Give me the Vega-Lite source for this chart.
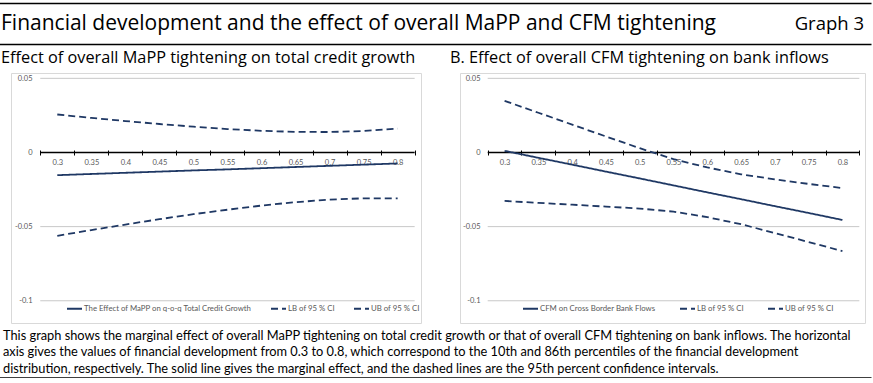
{
  "$schema": "https://vega.github.io/schema/vega-lite/v6.json",
  "padding": {"left": 0, "top": 3, "right": 0, "bottom": 0},
  "spacing": 5,
  "config": {"view": {"stroke": null}},
  "vconcat": [
    {
      "width": 860,
      "height": 41,
      "view": {"stroke": null},
      "layer": [
        {
          "data": {"values": [{"label": "Financial development and the effect of overall MaPP and CFM tightening"}]},
          "mark": {"type": "text", "align": "left", "baseline": "middle", "font": "Open Sans", "fontSize": 21, "color": "#000000", "dx": 3},
          "encoding": {
            "text": {"field": "label"},
            "x": {"datum": 0, "type": "quantitative", "scale": {"domain": [0, 1], "range": [-13, 860], "nice": false}, "axis": {"orient": "top", "domain": true, "domainColor": "#000000", "domainWidth": 1.5, "ticks": false, "labels": false, "grid": false, "title": null}},
            "y": {"datum": 0.5, "type": "quantitative", "scale": {"domain": [0, 1], "nice": false}, "axis": null}
          }
        },
        {
          "data": {"values": [{"label": "Graph 3"}]},
          "mark": {"type": "text", "align": "right", "baseline": "middle", "font": "Open Sans", "fontSize": 18.5, "dx": -7, "color": "#000000"},
          "encoding": {
            "text": {"field": "label"},
            "x": {"datum": 1, "type": "quantitative", "axis": {"orient": "bottom", "domain": true, "domainColor": "#000000", "domainWidth": 1.5, "ticks": false, "labels": false, "grid": false, "title": null}},
            "y": {"datum": 0.5, "type": "quantitative", "axis": null}
          }
        }
      ],
      "resolve": {"axis": {"x": "independent"}}
    },
    {
      "spacing": 27,
      "resolve": {"scale": {"x": "independent", "y": "independent", "strokeDash": "independent"}, "legend": {"strokeDash": "independent"}},
      "hconcat": [
        {
          "width": 410,
          "height": 250,
          "view": {"stroke": "#d9d9d9", "strokeWidth": 1},
          "title": {"text": "Effect of overall MaPP tightening on total credit growth", "anchor": "start", "frame": "group", "dx": -10, "offset": 7, "font": "Open Sans", "fontSize": 16.3, "fontWeight": "normal", "color": "#000000"},
          "layer": [
            {
              "data": {"values": [{"value": 0}]},
              "mark": {"type": "rule", "color": "#000000", "strokeWidth": 1.5},
              "encoding": {
                "x": {"datum": 0.275, "type": "quantitative", "scale": {"domain": [0.232, 0.8343], "nice": false, "zero": false},
                  "axis": {"orient": "bottom", "values": [0.275, 0.325, 0.375, 0.425, 0.475, 0.525, 0.575, 0.625, 0.675, 0.725, 0.775, 0.825], "offset": -173, "domain": false, "ticks": true, "tickSize": 5, "tickColor": "#000000", "tickWidth": 1, "labels": false, "grid": false, "title": null}},
                "x2": {"datum": 0.825},
                "y": {"field": "value", "type": "quantitative", "scale": {"domain": [-0.115, 0.0536], "nice": false, "zero": false},
                  "axis": {"orient": "left", "values": [0.05, 0, -0.05, -0.1], "labelExpr": "toString(datum.value)", "offset": -21, "domain": false, "ticks": false, "tickSize": 0, "labelPadding": 0, "grid": false, "title": null, "labelFont": "Lato", "labelFontSize": 7.5, "labelColor": "#595959", "labelOverlap": false, "labelBound": false, "zindex": 2}}
              }
            },
            {
              "data": {"values": [{"grid": 0.05}, {"grid": -0.05}, {"grid": -0.1}]},
              "mark": {"type": "rule", "color": "#c8c8c8", "strokeWidth": 1},
              "encoding": {
                "x": {"datum": 0.275, "type": "quantitative", "axis": null},
                "x2": {"datum": 0.825},
                "y": {"field": "grid", "type": "quantitative",
                  "axis": {"orient": "left", "values": [0.05, 0, -0.05, -0.1], "labelExpr": "toString(datum.value)", "offset": -21, "domain": false, "ticks": false, "tickSize": 0, "labelPadding": 0, "grid": false, "title": null, "labelFont": "Lato", "labelFontSize": 7.5, "labelColor": "#595959", "labelOverlap": false, "labelBound": false, "zindex": 2}}
              }
            },
            {
              "data": {"values": [
                {"fd": 0.3, "series": "The Effect of MaPP on q-o-q Total Credit Growth", "value": -0.0153},
                {"fd": 0.35, "series": "The Effect of MaPP on q-o-q Total Credit Growth", "value": -0.0145},
                {"fd": 0.4, "series": "The Effect of MaPP on q-o-q Total Credit Growth", "value": -0.0137},
                {"fd": 0.45, "series": "The Effect of MaPP on q-o-q Total Credit Growth", "value": -0.0129},
                {"fd": 0.5, "series": "The Effect of MaPP on q-o-q Total Credit Growth", "value": -0.0121},
                {"fd": 0.55, "series": "The Effect of MaPP on q-o-q Total Credit Growth", "value": -0.0114},
                {"fd": 0.6, "series": "The Effect of MaPP on q-o-q Total Credit Growth", "value": -0.0106},
                {"fd": 0.65, "series": "The Effect of MaPP on q-o-q Total Credit Growth", "value": -0.0098},
                {"fd": 0.7, "series": "The Effect of MaPP on q-o-q Total Credit Growth", "value": -0.009},
                {"fd": 0.75, "series": "The Effect of MaPP on q-o-q Total Credit Growth", "value": -0.0082},
                {"fd": 0.8, "series": "The Effect of MaPP on q-o-q Total Credit Growth", "value": -0.0074},
                {"fd": 0.3, "series": "LB of 95 % CI", "value": -0.0562},
                {"fd": 0.35, "series": "LB of 95 % CI", "value": -0.0523},
                {"fd": 0.4, "series": "LB of 95 % CI", "value": -0.0486},
                {"fd": 0.45, "series": "LB of 95 % CI", "value": -0.045},
                {"fd": 0.5, "series": "LB of 95 % CI", "value": -0.0416},
                {"fd": 0.55, "series": "LB of 95 % CI", "value": -0.0386},
                {"fd": 0.6, "series": "LB of 95 % CI", "value": -0.0358},
                {"fd": 0.65, "series": "LB of 95 % CI", "value": -0.0335},
                {"fd": 0.7, "series": "LB of 95 % CI", "value": -0.0318},
                {"fd": 0.75, "series": "LB of 95 % CI", "value": -0.0309},
                {"fd": 0.8, "series": "LB of 95 % CI", "value": -0.0309},
                {"fd": 0.3, "series": "UB of 95 % CI", "value": 0.0256},
                {"fd": 0.35, "series": "UB of 95 % CI", "value": 0.0233},
                {"fd": 0.4, "series": "UB of 95 % CI", "value": 0.0212},
                {"fd": 0.45, "series": "UB of 95 % CI", "value": 0.0192},
                {"fd": 0.5, "series": "UB of 95 % CI", "value": 0.0174},
                {"fd": 0.55, "series": "UB of 95 % CI", "value": 0.0158},
                {"fd": 0.6, "series": "UB of 95 % CI", "value": 0.0146},
                {"fd": 0.65, "series": "UB of 95 % CI", "value": 0.0139},
                {"fd": 0.7, "series": "UB of 95 % CI", "value": 0.0138},
                {"fd": 0.75, "series": "UB of 95 % CI", "value": 0.0145},
                {"fd": 0.8, "series": "UB of 95 % CI", "value": 0.0161}
              ]},
              "mark": {"type": "line", "color": "#1F3864", "strokeWidth": 1.8},
              "encoding": {
                "x": {"field": "fd", "type": "quantitative",
                  "axis": {"orient": "bottom", "values": [0.3, 0.35, 0.4, 0.45, 0.5, 0.55, 0.6, 0.65, 0.7, 0.75, 0.8], "labelExpr": "toString(datum.value)", "offset": -170.5, "domain": false, "ticks": false, "tickSize": 0, "labelPadding": 6, "grid": false, "title": null, "labelFont": "Lato", "labelFontSize": 7.5, "labelColor": "#595959", "labelOverlap": false, "labelFlush": false}},
                "y": {"field": "value", "type": "quantitative",
                  "axis": {"orient": "left", "values": [0.05, 0, -0.05, -0.1], "labelExpr": "toString(datum.value)", "offset": -21, "domain": false, "ticks": false, "tickSize": 0, "labelPadding": 0, "grid": false, "title": null, "labelFont": "Lato", "labelFontSize": 7.5, "labelColor": "#595959", "labelOverlap": false, "labelBound": false, "zindex": 2}},
                "strokeDash": {"field": "series", "type": "nominal",
                  "scale": {"domain": ["The Effect of MaPP on q-o-q Total Credit Growth", "LB of 95 % CI", "UB of 95 % CI"], "range": [[1, 0], [7, 4], [7, 4]]},
                  "legend": {"orient": "none", "legendX": 55, "legendY": 227, "direction": "horizontal", "columns": 3, "title": null, "symbolType": "stroke", "symbolSize": 225, "symbolStrokeWidth": 2, "symbolStrokeColor": "#1F3864", "labelFont": "Lato", "labelFontSize": 7.8, "labelLimit": 300, "labelColor": "#595959", "labelOffset": 1, "columnPadding": 15, "padding": 0}}
              }
            }
          ],
          "resolve": {"axis": {"x": "independent"}}
        },
        {
          "width": 405,
          "height": 250,
          "view": {"stroke": "#d9d9d9", "strokeWidth": 1},
          "title": {"text": "B. Effect of overall CFM tightening on bank inflows", "anchor": "start", "frame": "group", "dx": -10, "offset": 7, "font": "Open Sans", "fontSize": 16.3, "fontWeight": "normal", "color": "#000000"},
          "layer": [
            {
              "data": {"values": [{"value": 0}]},
              "mark": {"type": "rule", "color": "#000000", "strokeWidth": 1.5},
              "encoding": {
                "x": {"datum": 0.275, "type": "quantitative", "scale": {"domain": [0.234, 0.8334], "nice": false, "zero": false},
                  "axis": {"orient": "bottom", "values": [0.275, 0.325, 0.375, 0.425, 0.475, 0.525, 0.575, 0.625, 0.675, 0.725, 0.775, 0.825], "offset": -173, "domain": false, "ticks": true, "tickSize": 5, "tickColor": "#000000", "tickWidth": 1, "labels": false, "grid": false, "title": null}},
                "x2": {"datum": 0.825},
                "y": {"field": "value", "type": "quantitative", "scale": {"domain": [-0.115, 0.0536], "nice": false, "zero": false},
                  "axis": {"orient": "left", "values": [0.05, 0, -0.05, -0.1], "labelExpr": "toString(datum.value)", "offset": -20, "domain": false, "ticks": false, "tickSize": 0, "labelPadding": 0, "grid": false, "title": null, "labelFont": "Lato", "labelFontSize": 7.5, "labelColor": "#595959", "labelOverlap": false, "labelBound": false, "zindex": 2}}
              }
            },
            {
              "data": {"values": [{"grid": 0.05}, {"grid": -0.05}, {"grid": -0.1}]},
              "mark": {"type": "rule", "color": "#c8c8c8", "strokeWidth": 1},
              "encoding": {
                "x": {"datum": 0.275, "type": "quantitative", "axis": null},
                "x2": {"datum": 0.825},
                "y": {"field": "grid", "type": "quantitative",
                  "axis": {"orient": "left", "values": [0.05, 0, -0.05, -0.1], "labelExpr": "toString(datum.value)", "offset": -20, "domain": false, "ticks": false, "tickSize": 0, "labelPadding": 0, "grid": false, "title": null, "labelFont": "Lato", "labelFontSize": 7.5, "labelColor": "#595959", "labelOverlap": false, "labelBound": false, "zindex": 2}}
              }
            },
            {
              "data": {"values": [
                {"fd": 0.3, "series": "CFM on Cross Border Bank Flows", "value": 0.0011},
                {"fd": 0.35, "series": "CFM on Cross Border Bank Flows", "value": -0.0036},
                {"fd": 0.4, "series": "CFM on Cross Border Bank Flows", "value": -0.0082},
                {"fd": 0.45, "series": "CFM on Cross Border Bank Flows", "value": -0.0129},
                {"fd": 0.5, "series": "CFM on Cross Border Bank Flows", "value": -0.0175},
                {"fd": 0.55, "series": "CFM on Cross Border Bank Flows", "value": -0.0222},
                {"fd": 0.6, "series": "CFM on Cross Border Bank Flows", "value": -0.0269},
                {"fd": 0.65, "series": "CFM on Cross Border Bank Flows", "value": -0.0315},
                {"fd": 0.7, "series": "CFM on Cross Border Bank Flows", "value": -0.0362},
                {"fd": 0.75, "series": "CFM on Cross Border Bank Flows", "value": -0.0408},
                {"fd": 0.8, "series": "CFM on Cross Border Bank Flows", "value": -0.0455},
                {"fd": 0.3, "series": "LB of 95 % CI", "value": -0.0327},
                {"fd": 0.35, "series": "LB of 95 % CI", "value": -0.034},
                {"fd": 0.4, "series": "LB of 95 % CI", "value": -0.0352},
                {"fd": 0.45, "series": "LB of 95 % CI", "value": -0.0365},
                {"fd": 0.5, "series": "LB of 95 % CI", "value": -0.0378},
                {"fd": 0.55, "series": "LB of 95 % CI", "value": -0.0399},
                {"fd": 0.6, "series": "LB of 95 % CI", "value": -0.0436},
                {"fd": 0.65, "series": "LB of 95 % CI", "value": -0.0484},
                {"fd": 0.7, "series": "LB of 95 % CI", "value": -0.0543},
                {"fd": 0.75, "series": "LB of 95 % CI", "value": -0.0604},
                {"fd": 0.8, "series": "LB of 95 % CI", "value": -0.0665},
                {"fd": 0.3, "series": "UB of 95 % CI", "value": 0.0348},
                {"fd": 0.35, "series": "UB of 95 % CI", "value": 0.0268},
                {"fd": 0.4, "series": "UB of 95 % CI", "value": 0.0188},
                {"fd": 0.45, "series": "UB of 95 % CI", "value": 0.0108},
                {"fd": 0.5, "series": "UB of 95 % CI", "value": 0.0029},
                {"fd": 0.55, "series": "UB of 95 % CI", "value": -0.0045},
                {"fd": 0.6, "series": "UB of 95 % CI", "value": -0.0101},
                {"fd": 0.65, "series": "UB of 95 % CI", "value": -0.0147},
                {"fd": 0.7, "series": "UB of 95 % CI", "value": -0.0181},
                {"fd": 0.75, "series": "UB of 95 % CI", "value": -0.0212},
                {"fd": 0.8, "series": "UB of 95 % CI", "value": -0.0240}
              ]},
              "mark": {"type": "line", "color": "#1F3864", "strokeWidth": 1.8},
              "encoding": {
                "x": {"field": "fd", "type": "quantitative",
                  "axis": {"orient": "bottom", "values": [0.3, 0.35, 0.4, 0.45, 0.5, 0.55, 0.6, 0.65, 0.7, 0.75, 0.8], "labelExpr": "toString(datum.value)", "offset": -170.5, "domain": false, "ticks": false, "tickSize": 0, "labelPadding": 6, "grid": false, "title": null, "labelFont": "Lato", "labelFontSize": 7.5, "labelColor": "#595959", "labelOverlap": false, "labelFlush": false}},
                "y": {"field": "value", "type": "quantitative",
                  "axis": {"orient": "left", "values": [0.05, 0, -0.05, -0.1], "labelExpr": "toString(datum.value)", "offset": -20, "domain": false, "ticks": false, "tickSize": 0, "labelPadding": 0, "grid": false, "title": null, "labelFont": "Lato", "labelFontSize": 7.5, "labelColor": "#595959", "labelOverlap": false, "labelBound": false, "zindex": 2}},
                "strokeDash": {"field": "series", "type": "nominal",
                  "scale": {"domain": ["CFM on Cross Border Bank Flows", "LB of 95 % CI", "UB of 95 % CI"], "range": [[1, 0], [7, 4], [7, 4]]},
                  "legend": {"orient": "none", "legendX": 62, "legendY": 227, "direction": "horizontal", "columns": 3, "title": null, "symbolType": "stroke", "symbolSize": 225, "symbolStrokeWidth": 2, "symbolStrokeColor": "#1F3864", "labelFont": "Lato", "labelFontSize": 7.8, "labelLimit": 300, "labelColor": "#595959", "labelOffset": 1, "columnPadding": 20, "padding": 0}}
              }
            }
          ],
          "resolve": {"axis": {"x": "independent"}}
        }
      ]
    },
    {
      "width": 860,
      "height": 48.5,
      "view": {"stroke": null},
      "data": {"values": [
        {"line": 1, "text": "This graph shows the marginal effect of overall MaPP tightening on total credit growth or that of overall CFM tightening on bank inflows. The horizontal"},
        {"line": 2, "text": "axis gives the values of financial development from 0.3 to 0.8, which correspond to the 10th and 86th percentiles of the financial development"},
        {"line": 3, "text": "distribution, respectively. The solid line gives the marginal effect, and the dashed lines are the 95th percent confidence intervals."}
      ]},
      "mark": {"type": "text", "align": "left", "baseline": "middle", "font": "Lato", "fontSize": 12.8, "dx": 5, "color": "#000000"},
      "encoding": {
        "text": {"field": "text"},
        "x": {"datum": 0, "type": "quantitative", "scale": {"domain": [0, 1], "range": [-13, 860], "nice": false}, "axis": {"orient": "bottom", "domain": true, "domainColor": "#000000", "domainWidth": 1.5, "ticks": false, "labels": false, "grid": false, "title": null}},
        "y": {"field": "line", "type": "ordinal", "scale": {"type": "point", "padding": 0.456, "align": 0.43}, "axis": null}
      }
    }
  ]
}
